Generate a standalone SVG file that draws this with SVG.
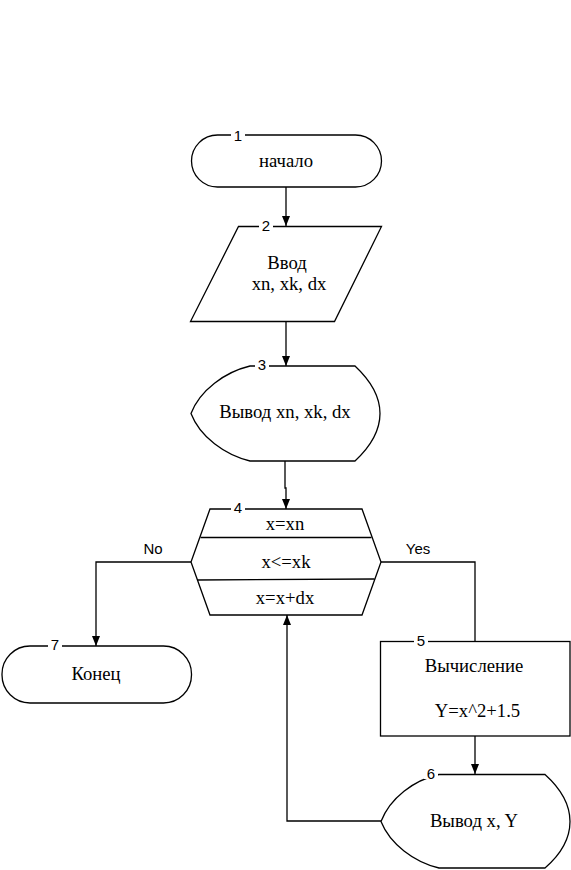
<svg xmlns="http://www.w3.org/2000/svg" width="571" height="870" viewBox="0 0 571 870">
<style>
.s{fill:#fff;stroke:#000;stroke-width:1.3}
.c{fill:none;stroke:#000;stroke-width:1.3}
.t{font-family:"Liberation Serif","Times New Roman",serif;font-size:18.7px;fill:#000;text-anchor:middle}
.n{font-family:"Liberation Sans",Arial,sans-serif;font-size:15px;fill:#000;text-anchor:middle}
.bg{fill:#fff}
</style>
<defs>
<marker id="a" viewBox="0 0 10 10" refX="10" refY="5" markerWidth="10" markerHeight="10" markerUnits="userSpaceOnUse" orient="auto">
<path d="M0,1 L10,5 L0,9 Z" fill="#000"/>
</marker>
</defs>
<rect width="571" height="870" fill="#fff"/>
<g id="connectors">
<path class="c" d="M286,187 L286,226" marker-end="url(#a)"/>
<path class="c" d="M286,322 L286,366" marker-end="url(#a)"/>
<path class="c" d="M285,461 L285,488 L286,488 L286,509" marker-end="url(#a)"/>
<path class="c" d="M191,562 L96,562 L96,646" marker-end="url(#a)"/>
<path class="c" d="M381,562 L475,562 L475,641"/>
<path class="c" d="M475,736 L475,774" marker-end="url(#a)"/>
<path class="c" d="M381,821 L287,821 L287,615" marker-end="url(#a)"/>
<text class="n" x="153" y="554" font-size="16">No</text>
<text class="n" x="418" y="554" font-size="16">Yes</text>
</g>
<g id="node1">
<rect class="s" x="191.5" y="135" width="190" height="52" rx="26" ry="26"/>
<rect class="bg" x="231" y="130" width="14" height="10"/>
<text class="n" x="238" y="141">1</text>
<text class="t" x="286" y="167">начало</text>
</g>
<g id="node2">
<path class="s" d="M238.5,226.5 L381.5,226.5 L334.5,321.5 L190.5,321.5 Z"/>
<rect class="bg" x="259" y="221" width="14" height="10"/>
<text class="n" x="266" y="231">2</text>
<text class="t" x="287" y="269">Ввод</text>
<text class="t" x="289" y="290">xn, xk, dx</text>
</g>
<g id="node3">
<path class="s" d="M250,366 L355,366 C370,380 380,395 380,413.5 C380,432 370,447 355,461 L250,461 C225,455 200,437 191,413.5 C200,390 225,372 250,366 Z"/>
<rect class="bg" x="255" y="361" width="14" height="10"/>
<text class="n" x="262" y="370">3</text>
<text class="t" x="285" y="418">Вывод xn, xk, dx</text>
</g>
<g id="node4">
<path class="s" d="M210,509 L362,509 L381,562 L362,615 L210,615 L191,562 Z"/>
<path class="c" d="M200.5,537.5 L371.5,537.5 M197,580 L374.5,579"/>
<rect class="bg" x="231" y="504" width="14" height="10"/>
<text class="n" x="238" y="513">4</text>
<text class="t" x="285" y="530">x=xn</text>
<text class="t" x="286" y="568">x&lt;=xk</text>
<text class="t" x="285" y="604">x=x+dx</text>
</g>
<g id="node5">
<rect class="s" x="380.5" y="641.5" width="189.5" height="94.5"/>
<rect class="bg" x="414" y="636" width="14" height="10"/>
<text class="n" x="421" y="646">5</text>
<text class="t" x="474" y="672">Вычисление</text>
<text class="t" x="477.5" y="717">Y=x^2+1.5</text>
</g>
<g id="node6">
<path class="s" d="M439,774.5 L545,774.5 C560,788 570,803 570,821.5 C570,840 560,855 545,868 L439,868 C414,862 390,844 381,821.5 C390,798 414,780 439,774.5 Z"/>
<rect class="bg" x="424" y="769" width="14" height="10"/>
<text class="n" x="431" y="779">6</text>
<text class="t" x="474" y="827">Вывод x, Y</text>
</g>
<g id="node7">
<rect class="s" x="2" y="646" width="189.5" height="57" rx="28" ry="28"/>
<rect class="bg" x="48" y="641" width="14" height="10"/>
<text class="n" x="55" y="650">7</text>
<text class="t" x="96" y="680">Конец</text>
</g>
</svg>
